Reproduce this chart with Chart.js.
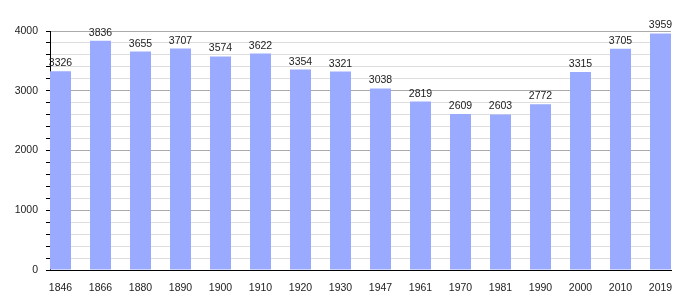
<!DOCTYPE html>
<html>
<head>
<meta charset="utf-8">
<script src="https://cdn.jsdelivr.net/npm/chart.js@4/dist/chart.umd.min.js"></script>
<style>
  html, body { margin: 0; padding: 0; background: #fff; }
</style>
</head>
<body>
<canvas id="chart" width="700" height="300"></canvas>
<script>
// ===== DATA =====
const years      = ['1846', '1866', '1880', '1890', '1900', '1910', '1920', '1930',
                    '1947', '1961', '1970', '1981', '1990', '2000', '2010', '2019'];
const population = [3326, 3836, 3655, 3707, 3574, 3622, 3354, 3321,
                    3038, 2819, 2609, 2603, 2772, 3315, 3705, 3959];
const yTicks     = [0, 1000, 2000, 3000, 4000];

const BAR_FRAC = 0.525;   // bar width as share of one slot
const FONT = '"Liberation Sans", Arial, sans-serif';

// value labels above each bar
const valueLabels = {
  id: 'valueLabels',
  afterDatasetsDraw(chart) {
    const ctx  = chart.ctx;
    const meta = chart.getDatasetMeta(0);
    ctx.save();
    ctx.font = '10.5px ' + FONT;
    ctx.fillStyle = '#222';
    ctx.textAlign = 'center';
    ctx.textBaseline = 'alphabetic';
    meta.data.forEach(function (bar, i) {
      ctx.fillText(String(population[i]), bar.x, bar.y - 5);
    });
    ctx.restore();
  }
};

new Chart(document.getElementById('chart'), {
  type: 'bar',
  data: {
    datasets: [{
      data: population.map(function (v, i) { return { x: i, y: v }; }),
      backgroundColor: 'rgb(153,170,255)',
      borderWidth: 0,
      barPercentage: BAR_FRAC,
      categoryPercentage: 1
    }]
  },
  options: {
    responsive: false,
    animation: false,
    devicePixelRatio: 1,
    layout: { padding: { top: 31, right: 29, left: 0, bottom: 0 } },
    plugins: { legend: { display: false }, tooltip: { enabled: false } },
    scales: {
      x: {
        type: 'linear',
        offset: false,
        min: -BAR_FRAC / 2,
        max: years.length - 1 + BAR_FRAC / 2,
        grid: { display: false, offset: false },
        border: { display: true, color: '#000', width: 1 },
        ticks: {
          stepSize: 1,
          includeBounds: false,
          autoSkip: false,
          maxRotation: 0,
          padding: 4,
          color: '#222',
          font: { family: FONT, size: 10.5 },
          callback: function (v) { return years[v] !== undefined ? years[v] : ''; }
        },
        afterFit: function (s) { s.height = 30; }
      },
      y: {
        min: yTicks[0],
        max: yTicks[yTicks.length - 1],
        grid: {
          color: function (c) { return c.tick && c.tick.value % 1000 === 0 ? '#aaa' : '#ddd'; },
          tickColor: '#000',
          tickLength: 4,
          drawTicks: true
        },
        border: { display: true, color: '#000', width: 1 },
        ticks: {
          stepSize: 200,
          maxTicksLimit: 30,
          autoSkip: false,
          padding: 8,
          color: '#222',
          font: { family: FONT, size: 10.5 },
          callback: function (v) { return yTicks.indexOf(v) >= 0 ? String(v) : ''; }
        },
        afterFit: function (s) { s.width = 50; }
      }
    }
  },
  plugins: [valueLabels]
});
</script>
</body>
</html>
